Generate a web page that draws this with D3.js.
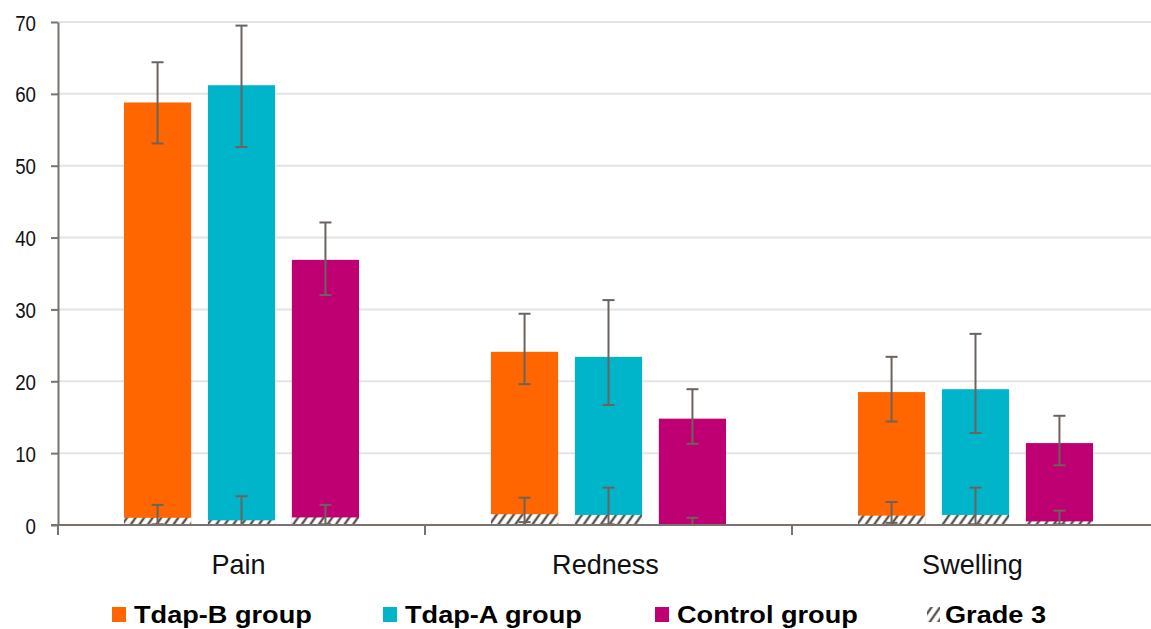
<!DOCTYPE html>
<html><head><meta charset="utf-8">
<script src="https://cdn.jsdelivr.net/npm/d3@7"></script>
<style>
html,body{margin:0;padding:0;background:#fff;overflow:hidden;}
</style></head>
<body>
<svg id="chart" width="1151" height="629"></svg>
<script>
// ---------- DATA ----------
const categories = ["Pain", "Redness", "Swelling"];
const groups = ["Tdap-B group", "Tdap-A group", "Control group"];
// any-grade incidence (%), order = categories
const tdapB = [58.8, 24.1, 18.5];
const tdapA = [61.2, 23.4, 18.9];
const control = [36.9, 14.8, 11.4];
// 95% CI lower / upper
const tdapBLo = [53.1, 19.6, 14.4], tdapBHi = [64.4, 29.4, 23.4];
const tdapALo = [52.6, 16.7, 12.8], tdapAHi = [69.5, 31.3, 26.6];
const controlLo = [32.0, 11.3, 8.3], controlHi = [42.1, 18.9, 15.2];
// grade 3 incidence and CI
const g3B = [1.0, 1.5, 1.3], g3BLo = [0.1, 0.4, 0.3], g3BHi = [2.8, 3.8, 3.2];
const g3A = [0.65, 1.4, 1.4], g3ALo = [0.0, 0.1, 0.1], g3AHi = [4.0, 5.2, 5.2];
const g3C = [1.05, 0.0, 0.5], g3CLo = [0.1, 0.0, 0.1], g3CHi = [2.8, 1.0, 2.0];
const yTicks = [0, 10, 20, 30, 40, 50, 60, 70];
const legendLabels = ["Tdap-B group", "Tdap-A group", "Control group", "Grade 3"];

// ---------- STYLE ----------
const colors = ["#ff6600", "#00b5c9", "#be0072"];
const errColor = "#6b635d";
const axisColor = "#7a726c";
const FONT = "'Liberation Sans', Arial, sans-serif";

const vals = [tdapB, tdapA, control];
const los = [tdapBLo, tdapALo, controlLo];
const his = [tdapBHi, tdapAHi, controlHi];
const g3 = [g3B, g3A, g3C];
const g3lo = [g3BLo, g3ALo, g3CLo];
const g3hi = [g3BHi, g3AHi, g3CHi];

const svg = d3.select("#chart");
const defs = svg.append("defs");
const pat = defs.append("pattern").attr("id", "hatch")
  .attr("patternUnits", "userSpaceOnUse").attr("width", 7).attr("height", 7)
  .attr("patternTransform", "rotate(35)");
pat.append("rect").attr("width", 7).attr("height", 7).attr("fill", "#fff");
pat.append("line").attr("x1", 2).attr("y1", 0).attr("x2", 2).attr("y2", 7)
  .attr("stroke", "#5a5550").attr("stroke-width", 2.4);

const x0 = d3.scaleBand().domain(categories).range([58, 1159]).paddingInner(0).paddingOuter(0);
const x1 = d3.scaleBand().domain(groups).range([0, x0.bandwidth()]).paddingInner(0.2).paddingOuter(0.786);
const y = d3.scaleLinear().domain([0, 70]).range([525, 22]);

// gridlines
svg.append("g").selectAll("line").data(yTicks.filter(d => d > 0)).join("line")
  .attr("x1", 58).attr("x2", 1151).attr("y1", d => y(d)).attr("y2", d => y(d))
  .attr("stroke", "#e4e4e4").attr("stroke-width", 2);

// build flat records
const recs = [];
categories.forEach((c, ci) => groups.forEach((g, gi) => {
  recs.push({c, g, gi, v: vals[gi][ci], lo: los[gi][ci], hi: his[gi][ci],
    g3: g3[gi][ci], g3lo: g3lo[gi][ci], g3hi: g3hi[gi][ci]});
}));
const bx = d => x0(d.c) + x1(d.g);
const bw = x1.bandwidth();

// main bars
svg.append("g").selectAll("rect").data(recs).join("rect")
  .attr("x", bx).attr("width", bw)
  .attr("y", d => y(d.v)).attr("height", d => y(0) - y(d.v))
  .attr("fill", d => colors[d.gi]);

// grade 3 bars
svg.append("g").selectAll("rect").data(recs.filter(d => d.g3 > 0)).join("rect")
  .attr("x", bx).attr("width", bw)
  .attr("y", d => y(d.g3)).attr("height", d => y(0) - y(d.g3))
  .attr("fill", "url(#hatch)");

// error bars
function errBars(lo, hi) {
  const g = svg.append("g").attr("stroke", errColor).attr("stroke-width", 2);
  recs.forEach(d => {
    const cx = bx(d) + bw / 2;
    g.append("line").attr("x1", cx).attr("x2", cx).attr("y1", y(lo(d))).attr("y2", y(hi(d)));
    g.append("line").attr("x1", cx - 6).attr("x2", cx + 6).attr("y1", y(hi(d))).attr("y2", y(hi(d)));
    g.append("line").attr("x1", cx - 6).attr("x2", cx + 6).attr("y1", y(lo(d))).attr("y2", y(lo(d)));
  });
}
errBars(d => d.lo, d => d.hi);
errBars(d => d.g3lo, d => d.g3hi);

// y axis
const yAxis = svg.append("g").attr("transform", "translate(58,0)")
  .call(d3.axisLeft(y).tickValues(yTicks).tickSize(7).tickSizeOuter(0).tickPadding(6));
yAxis.select(".domain").attr("stroke", axisColor).attr("stroke-width", 2);
yAxis.selectAll(".tick line").attr("stroke", axisColor).attr("stroke-width", 2);
yAxis.selectAll(".tick text").remove();
yAxis.selectAll(".tick").append("text")
  .attr("transform", "translate(-22,8) scale(0.85,1)")
  .attr("text-anchor", "end").attr("font-family", FONT)
  .attr("font-size", 22).attr("fill", "#111").text(d => d);
// extend y axis line below zero
svg.append("line").attr("x1", 58).attr("x2", 58).attr("y1", 525).attr("y2", 535)
  .attr("stroke", axisColor).attr("stroke-width", 2);

// x axis
svg.append("line").attr("x1", 51).attr("x2", 1151).attr("y1", y(0)).attr("y2", y(0))
  .attr("stroke", axisColor).attr("stroke-width", 2);
svg.append("g").selectAll("line").data(categories.slice(1)).join("line")
  .attr("x1", d => x0(d)).attr("x2", d => x0(d)).attr("y1", y(0)).attr("y2", y(0) + 10)
  .attr("stroke", axisColor).attr("stroke-width", 2);
svg.append("g").selectAll("text").data(categories).join("text")
  .attr("transform", d => `translate(${x0(d) + x0.bandwidth() / 2 - 3},574) scale(0.95,1)`)
  .attr("text-anchor", "middle")
  .attr("font-family", FONT)
  .attr("font-size", 28.5).attr("fill", "#111").text(d => d);

// legend
const legX = [112, 383, 655, 927];
const leg = svg.append("g");
legendLabels.forEach((lab, i) => {
  const g = leg.append("g").attr("transform", `translate(${legX[i]},0)`);
  g.append("rect").attr("x", 0).attr("y", 607).attr("width", i < 3 ? 14 : 13).attr("height", 15)
    .attr("fill", i < 3 ? colors[i] : "url(#hatch)");
  g.append("text").attr("transform", `translate(${i < 3 ? 22 : 18},622.5) scale(1.17,1)`)
    .attr("font-family", FONT).attr("font-weight", "bold")
    .attr("font-size", 23.2).attr("fill", "#000").text(lab);
});
</script>
</body></html>
